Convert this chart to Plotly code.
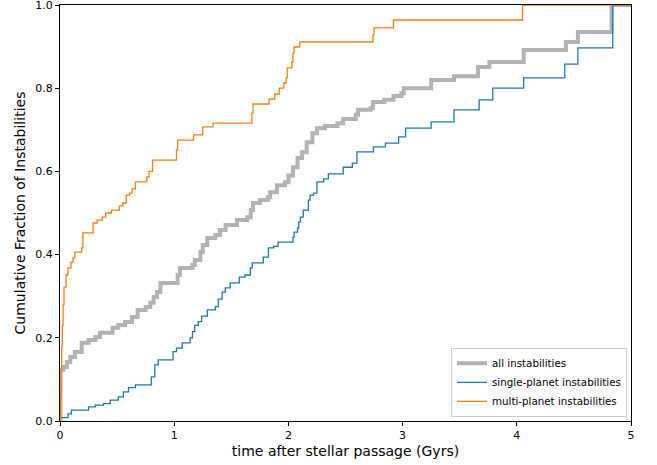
import plotly.graph_objects as go

# Cumulative fractions (step points: time in Gyr, fraction after step)
all_t = [0, 0.005, 0.03, 0.06, 0.09, 0.13, 0.19, 0.25, 0.31, 0.35, 0.46, 0.51, 0.57, 0.63, 0.68,
         0.75, 0.79, 0.82, 0.85, 0.88, 1.03, 1.05, 1.16, 1.18, 1.23, 1.25, 1.29, 1.36, 1.40, 1.45,
         1.55, 1.64, 1.67, 1.69, 1.75, 1.82, 1.84, 1.90, 1.97, 2.0, 2.04, 2.08, 2.12, 2.16, 2.21,
         2.25, 2.32, 2.43, 2.48, 2.59, 2.61, 2.72, 2.74, 2.84, 2.92, 2.99, 3.01, 3.25, 3.45, 3.66,
         3.76, 4.06, 4.43, 4.535, 4.83, 5.0]
all_f = [0, 0.123, 0.13, 0.142, 0.154, 0.166, 0.188, 0.195, 0.202, 0.212, 0.224, 0.231, 0.238, 0.25, 0.267,
         0.274, 0.284, 0.298, 0.31, 0.332, 0.351, 0.368, 0.375, 0.387, 0.406, 0.423, 0.44, 0.447, 0.459, 0.471,
         0.483, 0.49, 0.507, 0.524, 0.531, 0.538, 0.55, 0.567, 0.574, 0.59, 0.61, 0.632, 0.646, 0.67, 0.692,
         0.704, 0.709, 0.716, 0.726, 0.736, 0.748, 0.752, 0.767, 0.772, 0.781, 0.788, 0.800, 0.82, 0.829, 0.851,
         0.863, 0.892, 0.911, 0.935, 1.0, 1.0]

single_t = [0, 0.07, 0.10, 0.25, 0.31, 0.38, 0.44, 0.51, 0.555, 0.60, 0.66, 0.80, 0.83, 0.86, 0.99,
            1.02, 1.07, 1.14, 1.16, 1.18, 1.21, 1.24, 1.29, 1.36, 1.386, 1.42, 1.447, 1.49, 1.57, 1.62,
            1.667, 1.684, 1.78, 1.825, 1.87, 1.91, 2.04, 2.05, 2.08, 2.09, 2.105, 2.13, 2.175, 2.19, 2.22,
            2.25, 2.31, 2.35, 2.48, 2.56, 2.60, 2.745, 2.85, 2.965, 3.026, 3.25, 3.45, 3.67, 3.79, 4.06,
            4.42, 4.535, 4.84, 5.0]
single_f = [0.008, 0.017, 0.026, 0.034, 0.038, 0.042, 0.05, 0.058, 0.07, 0.08, 0.087, 0.106, 0.135, 0.147, 0.167,
            0.175, 0.188, 0.2, 0.215, 0.23, 0.239, 0.252, 0.267, 0.275, 0.293, 0.31, 0.32, 0.332, 0.346, 0.351,
            0.368, 0.38, 0.394, 0.416, 0.42, 0.43, 0.442, 0.454, 0.464, 0.478, 0.49, 0.507, 0.531, 0.543, 0.548,
            0.575, 0.582, 0.594, 0.61, 0.62, 0.647, 0.659, 0.668, 0.683, 0.704, 0.719, 0.748, 0.772, 0.80, 0.825,
            0.858, 0.897, 1.0, 1.0]

multi_t = [0, 0.005, 0.01, 0.015, 0.02, 0.027, 0.035, 0.053, 0.07, 0.096, 0.114, 0.13, 0.19, 0.20, 0.29,
           0.325, 0.37, 0.40, 0.45, 0.52, 0.55, 0.58, 0.61, 0.63, 0.66, 0.76, 0.78, 0.81, 1.02, 1.03,
           1.17, 1.25, 1.34, 1.68, 1.69, 1.83, 1.88, 1.92, 1.96, 1.98, 1.99, 2.03, 2.04, 2.05, 2.10,
           2.74, 2.75, 2.92, 4.05, 5.0]
multi_f = [0, 0.06, 0.12, 0.18, 0.23, 0.28, 0.322, 0.351, 0.368, 0.382, 0.392, 0.406, 0.416, 0.452, 0.476,
           0.483, 0.49, 0.50, 0.507, 0.517, 0.524, 0.543, 0.548, 0.558, 0.575, 0.587, 0.60, 0.627, 0.651, 0.675,
           0.688, 0.707, 0.716, 0.74, 0.762, 0.774, 0.786, 0.80, 0.8125, 0.825, 0.849, 0.863, 0.885, 0.899, 0.911,
           0.928, 0.945, 0.964, 1.0, 1.0]

x_ticks = [0, 1, 2, 3, 4, 5]
y_ticks = [0.0, 0.2, 0.4, 0.6, 0.8, 1.0]

fig = go.Figure()
fig.add_trace(go.Scatter(x=all_t, y=all_f, mode="lines", line_shape="hv",
                         line=dict(color="#b3b3b3", width=4), name="all instabilities"))
fig.add_trace(go.Scatter(x=single_t, y=single_f, mode="lines", line_shape="hv",
                         line=dict(color="#1f77b4", width=1.3), name="single-planet instabilities"))
fig.add_trace(go.Scatter(x=multi_t, y=multi_f, mode="lines", line_shape="hv",
                         line=dict(color="#ff7f0e", width=1.3), name="multi-planet instabilities"))

axis_common = dict(showline=True, linecolor="black", linewidth=1, mirror=True, showgrid=False,
                   zeroline=False, ticks="outside", ticklen=4, tickwidth=1, tickcolor="black",
                   automargin=False, ticklabeloverflow="allow",
                   tickfont=dict(family="DejaVu Sans", size=11, color="black"))

fig.update_xaxes(range=[0, 5], tickvals=x_ticks, ticktext=[str(v) for v in x_ticks],
                 title=dict(text="time after stellar passage (Gyrs)",
                            font=dict(family="DejaVu Sans", size=14, color="black"), standoff=4),
                 **axis_common)
fig.update_yaxes(range=[0, 1], tickvals=y_ticks, ticktext=[f"{v:.1f}" for v in y_ticks],
                 title=dict(text="Cumulative Fraction of Instabilities",
                            font=dict(family="DejaVu Sans", size=14, color="black"), standoff=6),
                 **axis_common)

fig.update_layout(
    width=657, height=465,
    margin=dict(l=60, r=26, t=5, b=44),
    plot_bgcolor="white", paper_bgcolor="white",
    font=dict(family="DejaVu Sans", color="black"),
    legend=dict(x=0.993, xanchor="right", y=0.01, yanchor="bottom",
                bgcolor="rgba(255,255,255,0.85)", bordercolor="#cccccc", borderwidth=1,
                font=dict(family="DejaVu Sans", size=10.3, color="black"),
                tracegroupgap=0, itemwidth=30),
)

fig.write_html("out.html", config={"displayModeBar": False},
               post_script="document.body.style.margin='0';document.body.style.padding='0';")
